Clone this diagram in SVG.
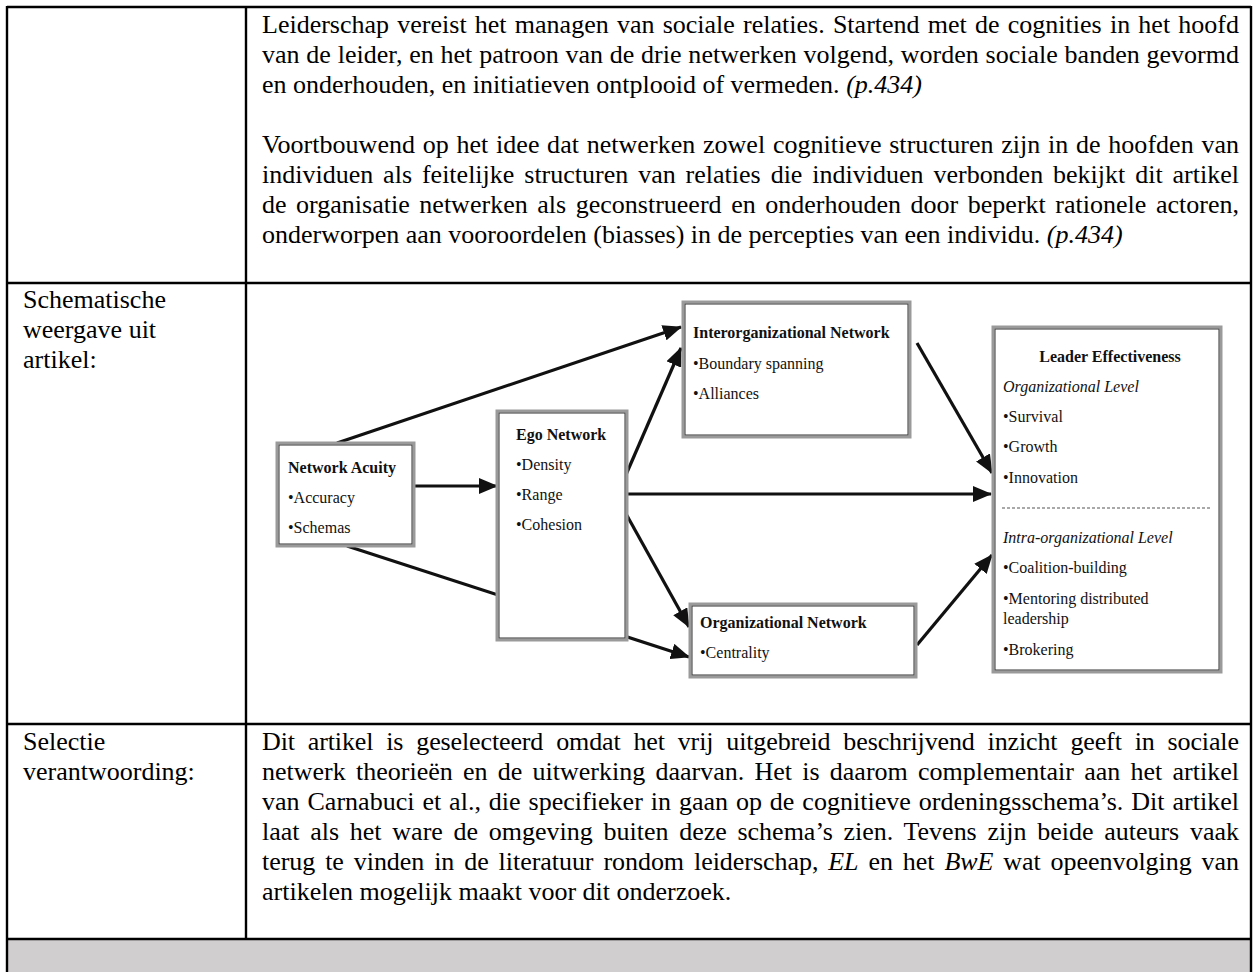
<svg xmlns="http://www.w3.org/2000/svg" width="1256" height="972" viewBox="0 0 1256 972">
<style>
svg{background:#fff}
text{font-family:"Liberation Serif","Times New Roman",Times,serif}
.t{font-family:"Liberation Serif","Times New Roman",Times,serif;font-size:26px;fill:#000}
.i{font-style:italic}
.d{font-family:"Liberation Serif","Times New Roman",Times,serif;font-size:16px;fill:#111}
.b{font-weight:bold}
.grid{stroke:#000;stroke-width:2.4;fill:none}
.bo{fill:#fff;stroke:#9a9a9a;stroke-width:3}
.bi{fill:none;stroke:#333;stroke-width:1}
.c{stroke:#111;stroke-width:3.2;fill:none;marker-end:url(#ah)}
</style>
<defs>
<marker id="ah" markerUnits="userSpaceOnUse" markerWidth="20" markerHeight="16" refX="18" refY="8" orient="auto">
<path d="M0,0 L19,8 L0,16 z" fill="#111"/>
</marker>
</defs>
<rect x="0" y="0" width="1256" height="972" fill="#fff"/>
<g id="table">
<rect x="7" y="939" width="1244" height="40" fill="#d0cece"/>
<line class="grid" x1="7" y1="7" x2="1251" y2="7"/>
<line class="grid" x1="7" y1="6" x2="7" y2="972"/>
<line class="grid" x1="1251" y1="6" x2="1251" y2="972"/>
<line class="grid" x1="246" y1="7" x2="246" y2="939"/>
<line class="grid" x1="7" y1="283" x2="1251" y2="283"/>
<line class="grid" x1="7" y1="724" x2="1251" y2="724"/>
<line class="grid" x1="7" y1="939" x2="1251" y2="939"/>
</g>
<g id="row1-text" font-family="Liberation Serif, Times New Roman, serif" font-size="26">
<text class="t" x="262" y="33" word-spacing="1.72" textLength="977" lengthAdjust="spacing">Leiderschap vereist het managen van sociale relaties. Startend met de cognities in het hoofd</text>
<text class="t" x="262" y="63" word-spacing="0.26" textLength="977" lengthAdjust="spacing">van de leider, en het patroon van de drie netwerken volgend, worden sociale banden gevormd</text>
<text class="t" x="262" y="93">en onderhouden, en initiatieven ontplooid of vermeden. <tspan class="i">(p.434)</tspan></text>
<text class="t" x="262" y="153" word-spacing="1.11" textLength="977" lengthAdjust="spacing">Voortbouwend op het idee dat netwerken zowel cognitieve structuren zijn in de hoofden van</text>
<text class="t" x="262" y="183" word-spacing="3.41" textLength="977" lengthAdjust="spacing">individuen als feitelijke structuren van relaties die individuen verbonden bekijkt dit artikel</text>
<text class="t" x="262" y="213" word-spacing="3.04" textLength="977" lengthAdjust="spacing">de organisatie netwerken als geconstrueerd en onderhouden door beperkt rationele actoren,</text>
<text class="t" x="262" y="243">onderworpen aan vooroordelen (biasses) in de percepties van een individu. <tspan class="i">(p.434)</tspan></text>
</g>
<g id="row2-label" font-family="Liberation Serif, Times New Roman, serif" font-size="26">
<text class="t" x="23" y="308">Schematische</text>
<text class="t" x="23" y="338">weergave uit</text>
<text class="t" x="23" y="368">artikel:</text>
</g>
<g id="connectors">
<line class="c" x1="337" y1="443" x2="681" y2="327"/>
<line class="c" x1="414" y1="486" x2="497" y2="486"/>
<line class="c" x1="625" y1="477" x2="681" y2="348"/>
<line class="c" x1="627" y1="494" x2="991" y2="494"/>
<line class="c" x1="625" y1="512" x2="689" y2="627"/>
<line class="c" x1="347" y1="546" x2="689" y2="657"/>
<line class="c" x1="917" y1="343" x2="992" y2="473"/>
<line class="c" x1="917" y1="645" x2="992" y2="555"/>
</g>
<g id="network-acuity" font-family="Liberation Serif, Times New Roman, serif">
<rect class="bo" x="277" y="443" width="137" height="103"/>
<rect class="bi" x="279" y="445" width="133" height="99"/>
<text class="d b" x="288" y="473">Network Acuity</text>
<text class="d" x="288" y="503">•Accuracy</text>
<text class="d" x="288" y="533">•Schemas</text>
</g>
<g id="ego-network" font-family="Liberation Serif, Times New Roman, serif">
<rect class="bo" x="497" y="411" width="130" height="229"/>
<rect class="bi" x="499" y="413" width="126" height="225"/>
<text class="d b" x="516" y="440">Ego Network</text>
<text class="d" x="516" y="470">•Density</text>
<text class="d" x="516" y="500">•Range</text>
<text class="d" x="516" y="530">•Cohesion</text>
</g>
<g id="interorganizational-network" font-family="Liberation Serif, Times New Roman, serif">
<rect class="bo" x="683" y="302" width="227" height="135"/>
<rect class="bi" x="685" y="304" width="223" height="131"/>
<text class="d b" x="693" y="338">Interorganizational Network</text>
<text class="d" x="693" y="369">•Boundary spanning</text>
<text class="d" x="693" y="399">•Alliances</text>
</g>
<g id="organizational-network" font-family="Liberation Serif, Times New Roman, serif">
<rect class="bo" x="690" y="604" width="226" height="73"/>
<rect class="bi" x="692" y="606" width="222" height="69"/>
<text class="d b" x="700" y="628">Organizational Network</text>
<text class="d" x="700" y="658">•Centrality</text>
</g>
<g id="leader-effectiveness" font-family="Liberation Serif, Times New Roman, serif">
<rect class="bo" x="993" y="327" width="228" height="345"/>
<rect class="bi" x="995" y="329" width="224" height="341"/>
<text class="d b" x="1110" y="362" text-anchor="middle">Leader Effectiveness</text>
<text class="d i" x="1003" y="392">Organizational Level</text>
<text class="d" x="1003" y="422">•Survival</text>
<text class="d" x="1003" y="452">•Growth</text>
<text class="d" x="1003" y="483">•Innovation</text>
<line x1="1002" y1="508" x2="1210" y2="508" stroke="#555" stroke-width="1.2" stroke-dasharray="3 2"/>
<text class="d i" x="1003" y="543">Intra-organizational Level</text>
<text class="d" x="1003" y="573">•Coalition-building</text>
<text class="d" x="1003" y="604">•Mentoring distributed</text>
<text class="d" x="1003" y="624">leadership</text>
<text class="d" x="1003" y="655">•Brokering</text>
</g>
<g id="row3-text" font-family="Liberation Serif, Times New Roman, serif" font-size="26">
<text class="t" x="23" y="750">Selectie</text>
<text class="t" x="23" y="780">verantwoording:</text>
<text class="t" x="262" y="750" word-spacing="6.56" textLength="977" lengthAdjust="spacing">Dit artikel is geselecteerd omdat het vrij uitgebreid beschrijvend inzicht geeft in sociale</text>
<text class="t" x="262" y="780" word-spacing="3.73" textLength="977" lengthAdjust="spacing">netwerk theorieën en de uitwerking daarvan. Het is daarom complementair aan het artikel</text>
<text class="t" x="262" y="810" word-spacing="1.39" textLength="977" lengthAdjust="spacing">van Carnabuci et al., die specifieker in gaan op de cognitieve ordeningsschema’s. Dit artikel</text>
<text class="t" x="262" y="840" word-spacing="4.23" textLength="977" lengthAdjust="spacing">laat als het ware de omgeving buiten deze schema’s zien. Tevens zijn beide auteurs vaak</text>
<text class="t" x="262" y="870" word-spacing="3.44" textLength="977" lengthAdjust="spacing">terug te vinden in de literatuur rondom leiderschap, <tspan class="i">EL</tspan> en het <tspan class="i">BwE</tspan> wat opeenvolging van</text>
<text class="t" x="262" y="900">artikelen mogelijk maakt voor dit onderzoek.</text>
</g>
</svg>
